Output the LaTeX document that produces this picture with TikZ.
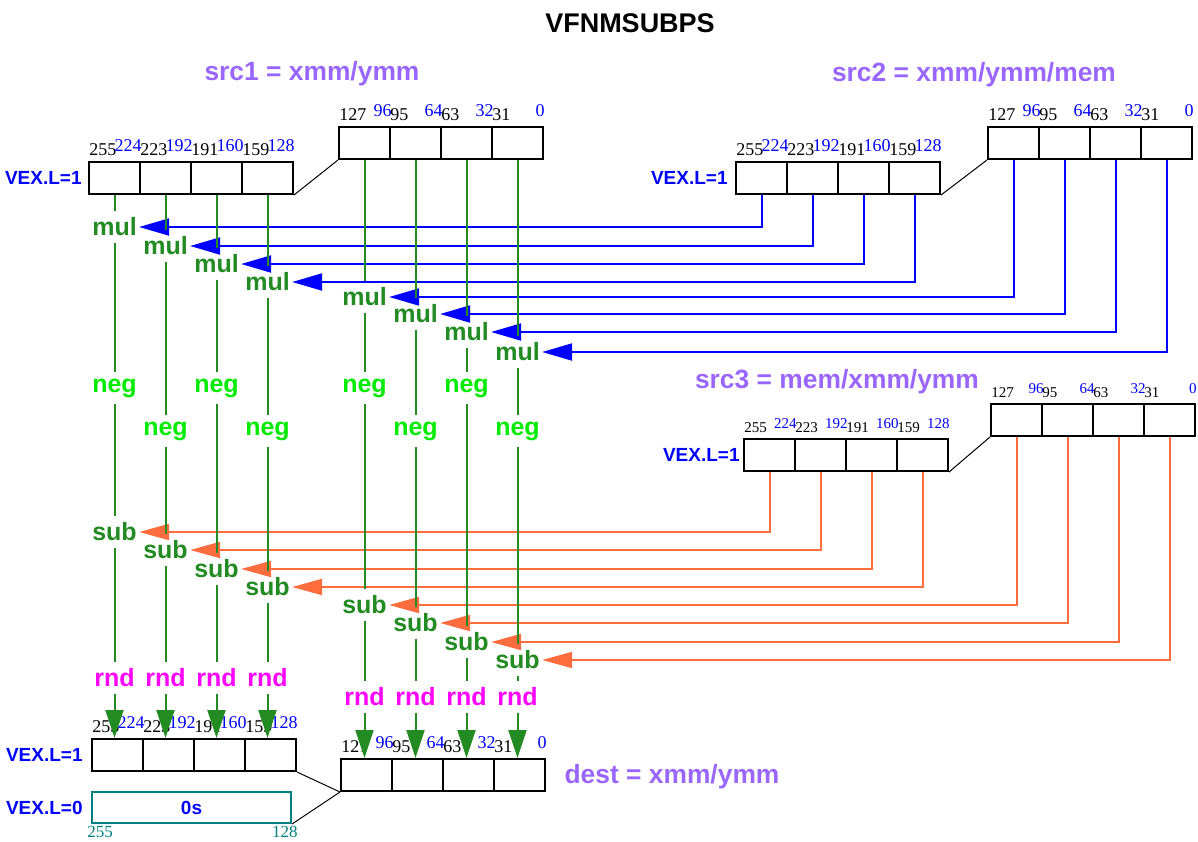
\documentclass[tikz,border=0pt]{standalone}
\usepackage{fontspec}
\setmainfont{Liberation Sans}
\newfontfamily\numfont{Liberation Serif}
\usepackage{tikz}
\usetikzlibrary{positioning,calc,arrows.meta}

\definecolor{srcpurple}{RGB}{153,102,255}
\definecolor{lanegreen}{RGB}{34,139,34}
\definecolor{neggreen}{RGB}{0,235,0}
\definecolor{rndmag}{RGB}{255,0,255}
\definecolor{srcorange}{RGB}{255,108,61}
\definecolor{zeroteal}{RGB}{0,128,128}

% bit numbers over one cell: high bit left, low bit right
\newcommand{\bitpair}[3]{%
  \node[bitno,anchor=base west] (#1h) at ([xshift=0.5pt,yshift=3pt]#1.north west) {#2};
  \node[bitno,text=blue,anchor=base east] (#1l) at ([xshift=0.5pt,yshift=5pt]#1.north east) {#3};}

\begin{document}
\begin{tikzpicture}[x=0.5pt,y=-0.5pt,
	cell/.style={draw,line width=1pt,minimum width=25.5pt,minimum height=16pt,inner sep=0pt},
	bitno/.style={font=\numfont\fontsize{9}{9}\selectfont,inner sep=0pt},
	vex/.style={font=\bfseries\fontsize{9.5}{10}\selectfont,text=blue,inner sep=0pt},
	srclbl/.style={font=\bfseries\fontsize{13.2}{14}\selectfont,text=srcpurple,anchor=base},
	op/.style={font=\bfseries\fontsize{12.5}{13}\selectfont,inner xsep=1pt,inner ysep=3pt},
	lane/.style={draw=lanegreen,line width=1pt},
	mularr/.style={draw=blue,line width=1pt,-{Triangle[length=15pt,width=8.5pt]}},
	subarr/.style={draw=srcorange,line width=1pt,-{Triangle[length=15pt,width=8pt]}},
	rndarr/.style={draw=lanegreen,line width=1pt,-{Triangle[length=14pt,width=9pt]}}]
	\useasboundingbox (0,0) rectangle (1198,841);

	\node[font=\bfseries\fontsize{13.5}{14}\selectfont,anchor=base] (title) at (630,32) {VFNMSUBPS};
	\node[srclbl] (src1lbl) at (312,80) {src1 = xmm/ymm};
	\node[srclbl] (src2lbl) at (974,81) {src2 = xmm/ymm/mem};
	\node[srclbl] (src3lbl) at (837,388) {src3 = mem/xmm/ymm};
	\node[srclbl] (destlbl) at (672,783) {dest = xmm/ymm};

	% registers
	\foreach \i in {0,...,3}{
		\node[cell] (s1c\i) at ({114.5+51*\i},178) {};
		\node[cell] (s2c\i) at ({761.5+51*\i},178) {};
		\node[cell] (s3c\i) at ({769.5+51*\i},455) {};
		\node[cell] (dc\i) at ({117.5+51*\i},755) {};
	}
	\foreach \i in {4,...,7}{
		\node[cell] (s1c\i) at ({364.5+51*(\i-4)},143) {};
		\node[cell] (s2c\i) at ({1013.5+51*(\i-4)},143) {};
		\node[cell] (s3c\i) at ({1016.5+51*(\i-4)},420) {};
		\node[cell] (dc\i) at ({366.5+51*(\i-4)},775) {};
	}
	\node[draw=zeroteal,line width=1pt,minimum width=99.5pt,minimum height=15.5pt,
		font=\bfseries\fontsize{9.5}{10}\selectfont,text=blue] (zero) at (191.5,807.5) {0s};

	\draw[line width=0.5pt] (s1c3.south east) -- (s1c4.south west);
	\draw[line width=0.5pt] (s2c3.south east) -- (s2c4.south west);
	\draw[line width=0.5pt] (s3c3.south east) -- (s3c4.south west);
	\draw[line width=0.5pt] (dc3.south east) -- (dc4.south west);
	\draw[line width=0.5pt] (zero.south east) -- (dc4.south west);

	\node[vex,left=3pt of s1c0] (vex1) {VEX.L=1};
	\node[vex,left=3.5pt of s2c0] (vex2) {VEX.L=1};
	\node[vex,left=1.5pt of s3c0] (vex3) {VEX.L=1};
	\node[vex,left=4pt of dc0] (vexd1) {VEX.L=1};
	\node[vex,left=4pt of zero] (vexd0) {VEX.L=0};
	\node[bitno,text=zeroteal,font=\numfont\fontsize{8.5}{8.5}\selectfont,anchor=base west] (z255) at ([xshift=-2pt,yshift=-6.5pt]zero.south west) {255};
	\node[bitno,text=zeroteal,font=\numfont\fontsize{8.5}{8.5}\selectfont,anchor=base east] (z128) at ([xshift=3pt,yshift=-6.5pt]zero.south east) {128};

	% bit numbers
	\foreach \i in {0,...,7}{
		\pgfmathtruncatemacro\hib{255-32*\i}
		\pgfmathtruncatemacro\lob{224-32*\i}
		\bitpair{s1c\i}{\hib}{\lob}
		\bitpair{s2c\i}{\hib}{\lob}
		\bitpair{dc\i}{\hib}{\lob}
	}
	\begin{scope}[bitno/.style={font=\numfont\fontsize{7.5}{8}\selectfont,inner sep=0pt}]
	\foreach \i in {0,...,7}{
		\pgfmathtruncatemacro\hib{255-32*\i}
		\pgfmathtruncatemacro\lob{224-32*\i}
		\bitpair{s3c\i}{\hib}{\lob}
	}
	\end{scope}

	% lanes: mul, neg, sub, rnd
	\foreach \i/\x/\ym/\yn/\ys/\yr in {0/114.5/227/388/532/678,1/165.5/246/431/550/678,
		2/216.5/264/388/569/678,3/267.5/282/431/587/678,4/364.5/297/388/605/697,
		5/415.5/314/431/623/697,6/466.5/332/388/642/697,7/517.5/352/431/660/697}{
		\node[op,text=lanegreen] (mul\i) at (\x,\ym) {mul};
		\node[op,text=neggreen] (neg\i) at (\x,\yn) {neg};
		\node[op,text=lanegreen] (sub\i) at (\x,\ys) {sub};
		\node[op,text=rndmag] (rnd\i) at (\x,\yr) {rnd};
		\draw[lane] (s1c\i) -- (mul\i) -- (neg\i) -- (sub\i) -- (rnd\i);
		\draw[rndarr] (rnd\i) -- (rnd\i |- dc\i.north);
		\draw[mularr] (s2c\i) |- (mul\i);
		\draw[subarr] (s3c\i) |- (sub\i);
	}
\end{tikzpicture}
\end{document}
